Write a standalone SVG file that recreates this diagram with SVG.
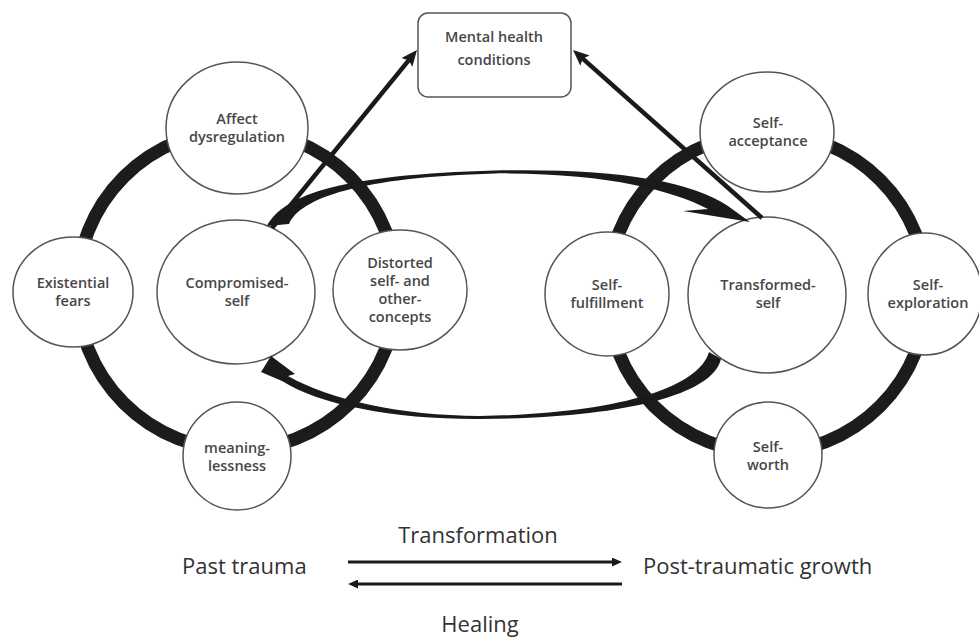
<svg xmlns="http://www.w3.org/2000/svg" width="979" height="637" viewBox="0 0 979 637">
<style>
.ring{fill:none;stroke:#1c1c1c;stroke-width:13}
.node ellipse,.node rect{fill:#fff;stroke:#555;stroke-width:1.5}
.node text{font-family:"Open Sans","Noto Sans",sans-serif;font-size:14.5px;font-weight:600;fill:#474747;text-anchor:middle}
.lbl{font-family:"Open Sans","Noto Sans",sans-serif;font-size:22px;fill:#333}
.conn path.fill{fill:#1a1a1a;stroke:none}
.conn line{stroke:#1a1a1a}
</style>
<defs>
<marker id="head" viewBox="0 0 16 14" refX="6" refY="7" markerWidth="16" markerHeight="14" orient="auto" markerUnits="userSpaceOnUse">
<path d="M0,0 L16,7 L0,14 L3,7 z" fill="#1a1a1a"/>
</marker>
<marker id="small" viewBox="0 0 10 9" refX="2" refY="4.5" markerWidth="10" markerHeight="9" orient="auto" markerUnits="userSpaceOnUse">
<path d="M0,0 L10,4.5 L0,9 z" fill="#1a1a1a"/>
</marker>
</defs>
<rect width="979" height="637" fill="#fff"/>
<g id="rings">
<circle class="ring" cx="237" cy="290" r="160"/>
<circle class="ring" cx="767" cy="293" r="160"/>
</g>
<g id="node-affect" class="node">
<ellipse cx="237" cy="128" rx="71" ry="66"/>
<text x="237" y="124">Affect</text><text x="237" y="142">dysregulation</text>
</g>
<g id="node-existential" class="node">
<ellipse cx="73" cy="292" rx="60" ry="55"/>
<text x="73" y="288">Existential</text><text x="73" y="306">fears</text>
</g>
<g id="node-compromised" class="node">
<ellipse cx="236" cy="292" rx="79" ry="72"/>
<text x="237" y="288">Compromised-</text><text x="237" y="306">self</text>
</g>
<g id="node-distorted" class="node">
<ellipse cx="400" cy="290" rx="67" ry="60"/>
<text x="400" y="268">Distorted</text><text x="400" y="286">self- and</text><text x="400" y="304">other-</text><text x="400" y="322">concepts</text>
</g>
<g id="node-meaninglessness" class="node">
<ellipse cx="237" cy="456" rx="54" ry="54"/>
<text x="237" y="453">meaning-</text><text x="237" y="471">lessness</text>
</g>
<g id="node-mental" class="node">
<rect x="418" y="13" width="153" height="84" rx="10"/>
<text x="494" y="42">Mental health</text><text x="494" y="65">conditions</text>
</g>
<g id="node-selfacceptance" class="node">
<ellipse cx="767" cy="132" rx="67" ry="60"/>
<text x="768" y="128">Self-</text><text x="768" y="146">acceptance</text>
</g>
<g id="node-selffulfillment" class="node">
<ellipse cx="607" cy="294" rx="62" ry="62"/>
<text x="607" y="290">Self-</text><text x="607" y="308">fulfillment</text>
</g>
<g id="node-transformed" class="node">
<ellipse cx="767" cy="295" rx="79" ry="78"/>
<text x="768" y="290">Transformed-</text><text x="768" y="308">self</text>
</g>
<g id="node-selfexploration" class="node">
<ellipse cx="925" cy="294" rx="57" ry="61"/>
<text x="928" y="290">Self-</text><text x="928" y="308">exploration</text>
</g>
<g id="node-selfworth" class="node">
<ellipse cx="768" cy="455" rx="54" ry="53"/>
<text x="768" y="452">Self-</text><text x="768" y="470">worth</text>
</g>
<g id="connectors" class="conn">
<line x1="272" y1="228" x2="410.7" y2="57.8" stroke-width="4.5" marker-end="url(#head)"/>
<line x1="762" y1="218" x2="580.5" y2="56.6" stroke-width="4.5" marker-end="url(#head)"/>
<path class="fill" d="M267 226 C285 193,345 175,495 170.6 C610 168,690 180,728 206 L750 222 L683 211 L708 209 C672 190,605 172.5,495 173.4 C360 177,300 198,289 224 Z"/>
<path class="fill" d="M271 356 L295 374 L288 376 C330 400,400 415.5,480 416 C610 414,698 390,709 352 L721 359 C712 398,610 418.5,480 419 C395 419.5,320 405,282 381 L261 372 Z"/>
<line x1="348" y1="562" x2="614" y2="562" stroke-width="3" marker-end="url(#small)"/>
<line x1="622" y1="584" x2="356" y2="584" stroke-width="3" marker-end="url(#small)"/>
</g>
<g id="labels">
<text class="lbl" x="182" y="574">Past trauma</text>
<text class="lbl" x="478" y="543" text-anchor="middle">Transformation</text>
<text class="lbl" x="643" y="574">Post-traumatic growth</text>
<text class="lbl" x="480" y="632" text-anchor="middle">Healing</text>
</g>
</svg>
